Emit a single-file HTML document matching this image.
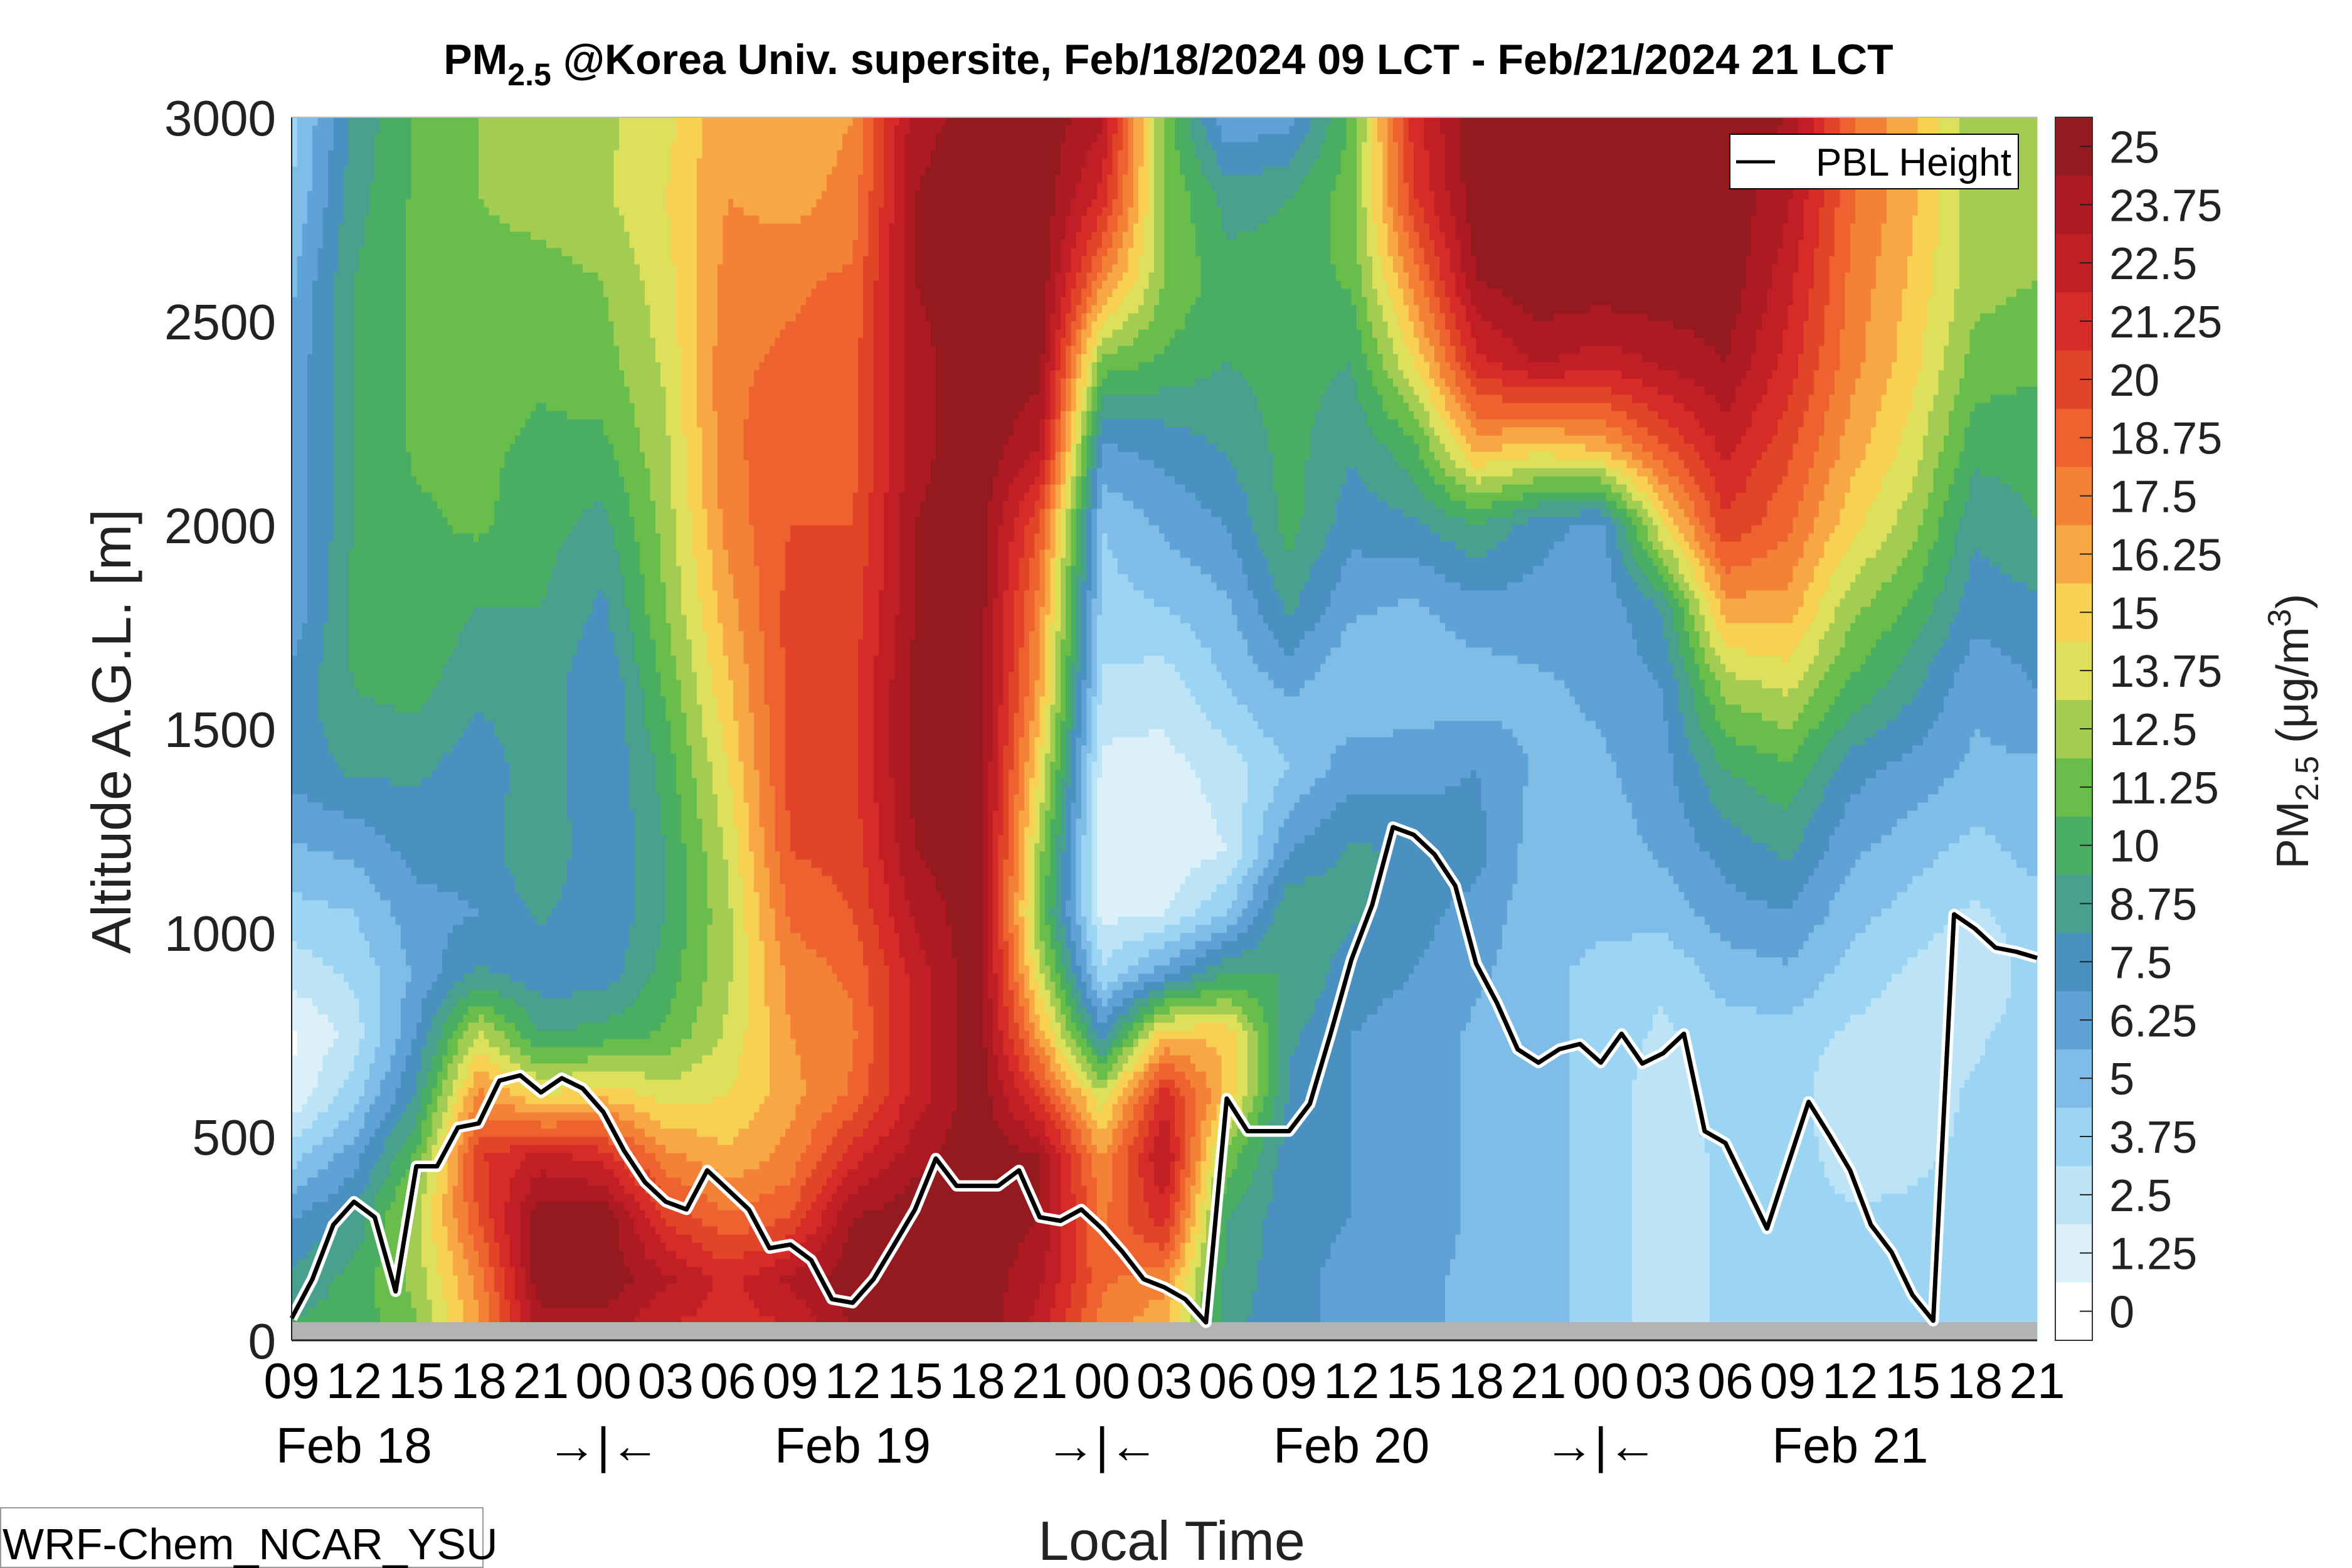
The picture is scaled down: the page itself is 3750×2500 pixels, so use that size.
<!DOCTYPE html>
<html><head><meta charset="utf-8">
<style>
html,body{margin:0;padding:0;background:#fff;}
svg{display:block;font-family:"Liberation Sans",sans-serif;}
</style></head>
<body>
<svg id="chart" width="3750" height="2500" viewBox="0 0 3750 2500" xmlns="http://www.w3.org/2000/svg">
  <rect x="0" y="0" width="3750" height="2500" fill="#fff"/>
  <text x="1863" y="118" text-anchor="middle" font-size="68" font-weight="bold" fill="#000">PM<tspan font-size="50" dy="18">2.5</tspan><tspan dy="-18"> @Korea Univ. supersite, Feb/18/2024 09 LCT - Feb/21/2024 21 LCT</tspan></text>
  <g id="field" shape-rendering="crispEdges"></g>
  <rect x="465" y="2108" width="2783" height="29" fill="#b3b3b3"/>
  <g id="pbl"></g>
  <line x1="465" y1="2137" x2="3248" y2="2137" stroke="#222" stroke-width="3"/>
  <line x1="465" y1="187" x2="465" y2="2137" stroke="#222" stroke-width="2"/>
  <line x1="465" y1="187" x2="3248" y2="187" stroke="#bbb" stroke-width="2"/>
  <g id="yticks"></g>
  <g id="xticks"></g>
  <text x="0" y="0" transform="translate(208,1166) rotate(-90)" text-anchor="middle" font-size="88" fill="#222">Altitude A.G.L. [m]</text>
  <text x="1868" y="2487" text-anchor="middle" font-size="88" fill="#222">Local Time</text>
  <g>
    <rect x="1" y="2404" width="769" height="95" fill="#fff" stroke="#999" stroke-width="2"/>
    <text x="4" y="2486" font-size="70" fill="#000">WRF-Chem_NCAR_YSU</text>
  </g>
  <g>
    <rect x="2758" y="214" width="460" height="87" fill="#fff" stroke="#000" stroke-width="2"/>
    <line x1="2768" y1="258" x2="2830" y2="258" stroke="#000" stroke-width="5"/>
    <text x="2895" y="280" font-size="62" textLength="312" fill="#000">PBL Height</text>
  </g>
  <g id="cbar"></g>
  <text x="0" y="0" transform="translate(3680,1166) rotate(-90)" text-anchor="middle" font-size="72" fill="#222">PM<tspan font-size="52" dy="16">2.5</tspan><tspan dy="-16"> (μg/m</tspan><tspan font-size="52" dy="-28">3</tspan><tspan dy="28">)</tspan></text>
</svg>
<script>
const hours = [0,3,6,9,12,15,18,21,24,27,30,33,36,39,42,45,48,51,54,57,60,63,66,69,72,75,78,81,84];
const altitudesDesc = [3000,2800,2600,2400,2200,2000,1800,1600,1400,1200,1050,900,750,600,450,300,150,0];
const pmColumns = [
 [4.5,5,6,6.5,6.5,6.5,6.5,8,8,6,4.5,3,1,1.5,4.5,7.5,9,10.5],
 [9,9.5,10,10,10,10,10.5,10,9,6.5,5,4,3,4.5,7,9,10.5,10.5],
 [11.5,11.5,11.5,11.5,11.5,11,11,10.5,9,8,7,6.5,7.5,9,11.5,13.5,13,12],
 [12.5,12.5,12,12,11.5,11.5,10,9,8,8,7.5,9,14,18,21,20,18,17],
 [13.5,13,12,11.5,11,10.5,10,9.5,9.5,10,9,8,10,15,23,26,26,24],
 [13.5,13.5,12.5,12,11,9.5,8.5,7.5,7.5,7.5,7.5,8,10.5,16,22,26,26,24],
 [14.5,15,14.5,14,13.5,13,12.5,11.5,10.5,10,10,10.5,11.5,14.5,18,21,24,22],
 [17.5,17.5,18,18.5,18.5,18,17,16,15,14,13.5,13.5,14,15,16.5,19,22,22],
 [16.5,17,18.5,19,19.5,20,20.5,20.5,20.5,20,19,18,17.5,17,18,20,24,22],
 [17.5,18,19,19.5,19.5,20,20.5,21,21,20.5,20,19,18.5,19,22,25,26,25],
 [24.5,25,25,24.5,24.5,25,25,25.5,25.5,25,24,23,23,23,24.5,26,26,26],
 [25.5,26,26,26,26,26,26,26,26,26,26,26,26,26,26,26,26,26],
 [26,26,26,25.5,24,20,18,17,15,13,12,14,17,21,25,25,24,23],
 [24,22,18,12,7.5,5,4.5,3.5,2,1.5,2,4,8,14,17.5,18.5,19,18],
 [12,12.5,12.5,11,8,6.5,5,3,2,1.5,2.5,7,16,22,24,22,18,16],
 [6.5,9.5,10.5,10,9,7.5,6,5,3,2.5,5,10,16,16,12,10,9.5,9],
 [7,10,10.5,10.5,10.5,10.5,9,6.5,5,7.5,10,10,9,8.5,8,8,8,8],
 [11.5,12,11.5,10,9,8,6.5,5,7,9,9,8,7.5,7.5,7.5,7.5,7,7],
 [22,21,18,15,11,8.5,6,5.5,7,8.5,8,7.5,7,7,7,7,6.5,6.5],
 [26,26,25,22,17,10,7,5.5,7.5,8,7,6.5,6,6,6,6,6,6],
 [26,26,26,24,16,8,7,6,6,5.5,5.5,5.5,5.5,5.5,5.5,5.5,5.5,5.5],
 [26,26,26,23,17,7,6.5,6.5,6,5.5,5.5,4.5,4.5,4.5,4.5,4.5,4.5,4.5],
 [26,26,26,24,20,15,9,7.5,7,6.5,5.5,4,3.5,3,3,3,3,3],
 [26,26,26,25,23,21,17,13,10,8,7,5.5,4.5,4.5,4,4,4,4],
 [25,24,23,22,20.5,19,17,14,11,9,7.5,6,4.5,4.5,4.5,4.5,4.5,4.5],
 [19,19,18.5,18,17,15.5,13,11,8,6.5,5.5,4.5,3.5,2.5,3,4,4,4],
 [16.5,16.5,16,15.5,14.5,13,11,9,7,5.5,4.5,3.5,3,3,3.5,4,4,4],
 [13,13,13,12,10.5,9,8,6.5,6,4.5,3.5,2.5,3.5,4,4,4.5,4.5,4.5],
 [13,13,12.5,11.5,10.5,10,8.5,7.5,6,5.5,4.5,4.5,4.5,4.5,4,4,4,4]
];
const pblHours = [];
for (let i = 0; i <= 84; i++) pblHours.push(i);
const pblAlt = [54,150,283,340,302,120,427,427,522,532,637,650,608,643,618,560,465,388,340,321,417,369,321,226,235,197,101,92,150,235,321,446,379,379,379,417,302,293,321,274,216,150,130,101,44,593,513,513,513,580,752,934,1068,1259,1240,1192,1115,924,828,714,681,714,727,681,752,679,704,752,513,484,379,274,430,585,503,417,283,216,111,48,1045,1010,963,953,938];
const levelLabels = ["0","1.25","2.5","3.75","5","6.25","7.5","8.75","10","11.25","12.5","13.75","15","16.25","17.5","18.75","20","21.25","22.5","23.75","25"];
const levelColors = ["#ffffff","#dcf0fa","#bde3f7","#9bd5f3","#80bce8","#5fa3d6","#4a90c0","#48a08e","#4aae62","#68bd4b","#a2cd52","#dde05a","#f8d153","#f7a845","#f48236","#ee6230","#e24428","#d72b27","#c21e26","#ad1a22","#951a1f"];
const yTickValues = [0,500,1000,1500,2000,2500,3000];
const xTickLabels = ["09","12","15","18","21","00","03","06","09","12","15","18","21","00","03","06","09","12","15","18","21","00","03","06","09","12","15","18","21"];
const dateLabels = ["Feb 18","→|←","Feb 19","→|←","Feb 20","→|←","Feb 21"];
const dateLabelHours = [3,15,27,39,51,63,75];

const NS = "http://www.w3.org/2000/svg";
const X0 = 465, X1 = 3248, Y0 = 2137, Y1 = 187, HMAX = 84, AMAX = 3000;
function xOf(h){ return X0 + h * (X1 - X0) / HMAX; }
function yOf(a){ return Y0 - a * (Y0 - Y1) / AMAX; }
function mk(tag, attrs, parent){
  const e = document.createElementNS(NS, tag);
  for (const k in attrs) e.setAttribute(k, attrs[k]);
  parent.appendChild(e); return e;
}
function colAt(ci, a){
  const col = pmColumns[ci];
  for (let j = 0; j < altitudesDesc.length - 1; j++){
    const aT = altitudesDesc[j], aB = altitudesDesc[j+1];
    if (a <= aT && a >= aB){
      const t = (a - aB) / (aT - aB);
      return col[j+1] + (col[j] - col[j+1]) * t;
    }
  }
  return col[col.length-1];
}
function valAt(h, a){
  let i = 0;
  while (i < hours.length - 2 && h > hours[i+1]) i++;
  const t = Math.max(0, Math.min(1, (h - hours[i]) / (hours[i+1] - hours[i])));
  return colAt(i, a) * (1 - t) + colAt(i+1, a) * t;
}
function binOf(v){ return Math.max(0, Math.min(20, Math.floor(v / 1.25))); }

const field = document.getElementById('field');
const dh = 0.25, da = 20;
const nC = Math.round(HMAX / dh), nR = Math.round(AMAX / da);
for (let r = 0; r < nR; r++){
  const a0 = r * da, ac = a0 + da / 2;
  let start = 0, cur = binOf(valAt(dh/2, ac));
  for (let c = 1; c <= nC; c++){
    const b = c < nC ? binOf(valAt(c*dh + dh/2, ac)) : -1;
    if (b !== cur){
      const x = xOf(start*dh), x2 = xOf(c*dh);
      const rc = mk('rect', {x: x.toFixed(1), y: (yOf(a0+da)-0.5).toFixed(1), width: (x2-x+0.6).toFixed(1), height: (da*0.65+1).toFixed(1), fill: levelColors[cur]}, field);
      
      
      start = c; cur = b;
    }
  }
}

const pbl = document.getElementById('pbl');
let pts = pblHours.map((h,i) => xOf(h).toFixed(1) + ',' + yOf(pblAlt[i]).toFixed(1)).join(' ');
const halo = mk('polyline', {points: pts, fill: 'none', stroke: '#fff', 'stroke-width': 18, 'stroke-linejoin': 'round'}, pbl);


const ln = mk('polyline', {points: pts, fill: 'none', stroke: '#000', 'stroke-width': 7, 'stroke-linejoin': 'round'}, pbl);



const yt = document.getElementById('yticks');
yTickValues.forEach(v => {
  const t = mk('text', {x: 440, y: (yOf(v) + 29).toFixed(1), 'text-anchor': 'end', 'font-size': 80, fill: '#222'}, yt);
  
  
  t.textContent = String(v);
});

const xt = document.getElementById('xticks');
xTickLabels.forEach((s, i) => {
  const t = mk('text', {x: xOf(i*3).toFixed(1), y: 2229, 'text-anchor': 'middle', 'font-size': 80, fill: '#000'}, xt);
  
  
  t.textContent = s;
});
dateLabels.forEach((s, i) => {
  const t = mk('text', {x: xOf(dateLabelHours[i]).toFixed(1), y: 2332, 'text-anchor': 'middle', 'font-size': 80, fill: '#000'}, xt);
  
  
  t.textContent = s;
});

const cb = document.getElementById('cbar');
const CX = 3277, CW = 59, nB = levelColors.length, bh = (Y0 - Y1) / nB;
levelColors.forEach((c, k) => {
  const y = Y0 - (k+1)*bh;
  const r = mk('rect', {x: CX, y: y.toFixed(1), width: CW, height: (bh+0.5).toFixed(1), fill: c}, cb);
  
  
  const yc = y + bh/2;
  const tk = mk('line', {x1: CX+CW-20, y1: yc.toFixed(1), x2: CX+CW, y2: yc.toFixed(1), stroke: '#222', 'stroke-width': 2}, cb);
  
  
  const t = mk('text', {x: 3363, y: (yc + 26).toFixed(1), 'font-size': 72, fill: '#222'}, cb);
  
  
  t.textContent = levelLabels[k];
});
const border = mk('rect', {x: CX, y: Y1, width: CW, height: Y0 - Y1, fill: 'none', stroke: '#333', 'stroke-width': 2}, cb);


</script>
</body></html>
